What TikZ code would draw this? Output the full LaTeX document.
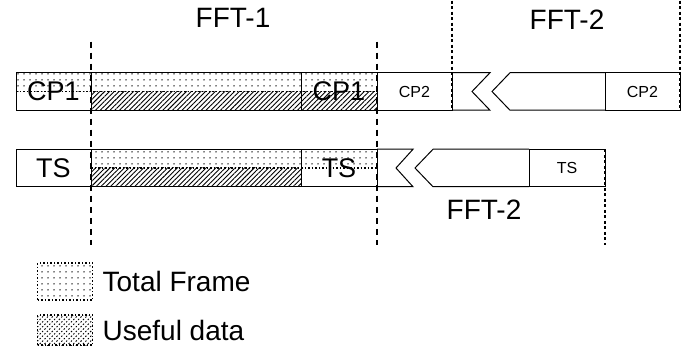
\documentclass[tikz,border=0pt]{standalone}
\usepackage{fontspec}
\setmainfont{Liberation Sans}
\usetikzlibrary{positioning, patterns.meta, backgrounds}

\tikzset{
    seg/.style={draw, line width=1pt, rectangle, minimum height=37.5pt, inner sep=0pt, outer sep=0pt, font=\fontsize{27}{27}\selectfont},
    smalltext/.style={font=\fontsize{16}{16}\selectfont},
    fftlabel/.style={font=\fontsize{28}{28}\selectfont},
    totalfill/.style={pattern={Dots[distance=6pt, radius=0.75pt]}},
    usefulfill/.style={pattern={Lines[angle=45, distance=3.4pt, line width=0.9pt]}},
    cutline/.style={line width=1.4pt, dash pattern=on 6pt off 5pt},
    edgeline/.style={line width=2pt, dash pattern=on 3pt off 2.5pt}
}

\begin{document}
\begin{tikzpicture}[x=1pt, y=-1pt, node distance=0pt]
    \useasboundingbox (0,0) rectangle (683,350);

    \node (fftone) [fftlabel] at (233,18) {FFT-1};
    \node (ffttwo) [fftlabel] at (567,20) {FFT-2};

    \node (cpa) [seg, minimum width=75pt] at (53.5,91.5) {CP1};
    \node (dta) [seg, minimum width=210pt, right=of cpa] {};
    \node (cpb) [seg, minimum width=76pt, right=of dta] {CP1};
    \node (cpc) [seg, smalltext, minimum width=75pt, right=of cpb] {CP2};
    \node (cpd) [seg, smalltext, minimum width=75pt] at (642.5,91.5) {CP2};
    \draw[line width=1pt] (cpc.north east) -- ++(38,0) -- ++(-18,18.75) -- ++(18,18.75) -- (cpc.south east);
    \draw[line width=1pt] (cpd.north west) -- ++(-95,0) -- ++(-18,18.75) -- ++(18,18.75) -- (cpd.south west);

    \node (tsa) [seg, minimum width=75pt] at (53.5,168) {TS};
    \node (dtb) [seg, minimum width=210pt, right=of tsa] {};
    \node (tsb) [seg, minimum width=76pt, right=of dtb] {TS};
    \node (tsc) [seg, smalltext, minimum width=76pt] at (567,168) {TS};
    \draw[line width=1pt] (tsb.north east) -- ++(36,0) -- ++(-17,18.75) -- ++(17,18.75) -- (tsb.south east);
    \draw[line width=1pt] (tsc.north west) -- ++(-96,0) -- ++(-18,18.75) -- ++(18,18.75) -- (tsc.south west);

    \node (fftthree) [fftlabel] at (484,210) {FFT-2};

    \begin{scope}[on background layer]
        \fill[totalfill] (cpa.north west) rectangle (cpb.east);
        \fill[usefulfill] (dta.west) rectangle (cpb.south east);
        \fill[totalfill] (dtb.north west) rectangle (tsb.east);
        \fill[usefulfill] (dtb.west) rectangle (dtb.south east);
    \end{scope}
    \draw[line width=1.2pt, dash pattern=on 1.5pt off 2pt] (cpa.west) -- (cpb.east);
    \draw[line width=1.2pt, dash pattern=on 1.5pt off 2pt] (dtb.west) -- (tsb.east);

    \draw[cutline] ([yshift=31pt]cpa.north east) -- ([yshift=-58pt]tsa.south east);
    \draw[cutline] ([yshift=31pt]cpb.north east) -- ([yshift=-58pt]tsb.south east);
    \draw[edgeline] ([yshift=72pt]cpc.north east) -- (cpc.south east);
    \draw[edgeline] ([yshift=72pt]cpd.north east) -- (cpd.south east);
    \draw[edgeline] (tsc.north east) -- ([yshift=-58pt]tsc.south east);

    \node (legframe) [draw, line width=1.2pt, dash pattern=on 1.5pt off 2pt, totalfill, minimum width=55pt, minimum height=37pt] at (65,281.5) {};
    \node (legframetext) [fftlabel, right=6pt of legframe] {Total Frame};
    \node (leguseful) [draw, line width=1.2pt, dash pattern=on 1.5pt off 2pt, usefulfill, minimum width=55pt, minimum height=30pt] at (65,330) {};
    \node (legusefultext) [fftlabel, right=6pt of leguseful] {Useful data};
\end{tikzpicture}
\end{document}
